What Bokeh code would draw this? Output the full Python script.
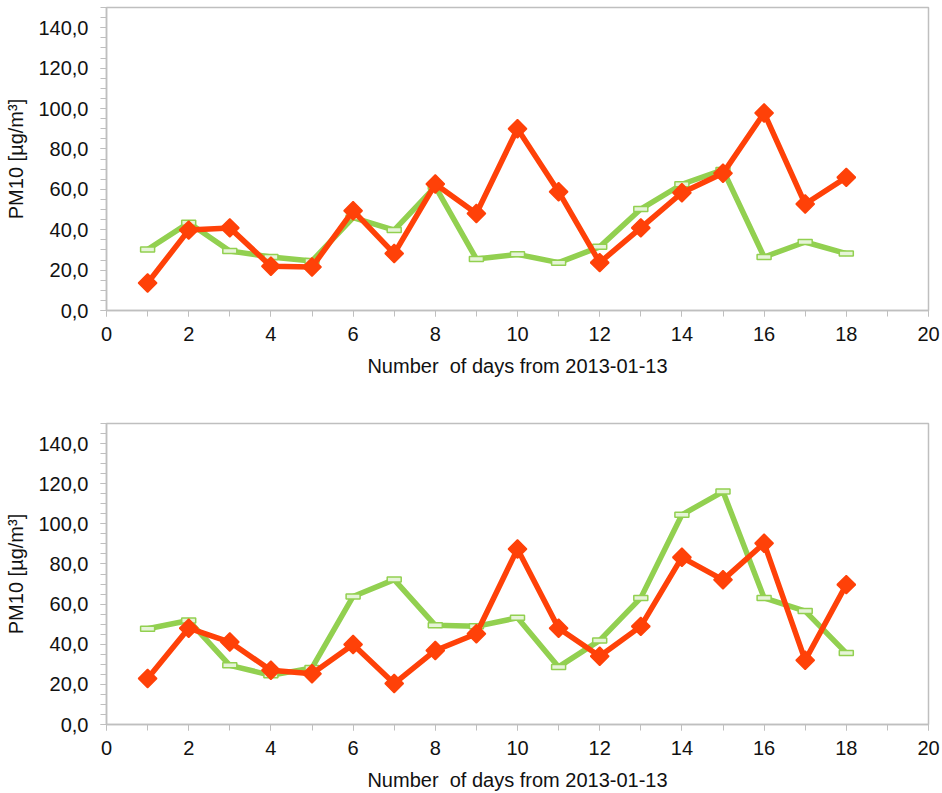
from bokeh.plotting import figure
from bokeh.layouts import column
from bokeh.models import FixedTicker, Range1d
from bokeh.embed import file_html
from bokeh.resources import INLINE

days = list(range(1, 19))
top_green = [30.2, 43.4, 29.5, 26.5, 24.5, 46.0, 39.8, 61.3, 25.5, 27.8, 23.7, 31.5, 50.2, 62.5, 69.6, 26.5, 33.9, 28.2]
top_red = [13.6, 39.8, 40.9, 21.9, 21.5, 49.4, 28.2, 62.6, 48.0, 90.0, 58.8, 23.7, 40.9, 58.3, 67.9, 97.8, 52.7, 65.9]
bottom_green = [47.7, 51.8, 29.5, 24.5, 28.2, 63.8, 72.2, 49.4, 48.9, 53.2, 28.7, 41.9, 63.1, 104.5, 116.1, 63.1, 56.5, 35.6]
bottom_red = [22.9, 48.0, 41.1, 27.0, 25.3, 39.9, 20.4, 36.9, 45.2, 87.5, 48.0, 34.0, 48.9, 83.3, 72.1, 90.3, 32.0, 69.7]

y_ticks = [0, 20, 40, 60, 80, 100, 120, 140]
y_tick_labels = ["0,0", "20,0", "40,0", "60,0", "80,0", "100,0", "120,0", "140,0"]
y_minor_ticks = list(range(0, 151, 5))
x_ticks = [0, 2, 4, 6, 8, 10, 12, 14, 16, 18, 20]
x_minor_ticks = list(range(0, 21))

x_title = "Number\u00a0 of days from 2013-01-13"
y_title = "PM10 [µg/m³]"

GREEN = "#92D050"
GREEN_FILL = "#E6F4D8"
RED = "#FF4108"
GRAY = "#BFBFBF"
FONT = "Liberation Sans"


def make_fig(green, red, border_top, border_bottom, height):
    p = figure(width=942, height=height, output_backend="svg", toolbar_location=None,
               x_range=Range1d(0, 20), y_range=Range1d(0, 150),
               min_border_left=106, min_border_right=14,
               min_border_top=border_top, min_border_bottom=border_bottom)
    p.xgrid.visible = False
    p.ygrid.visible = False
    p.outline_line_color = GRAY
    p.outline_line_width = 1.5
    p.background_fill_color = "white"
    p.border_fill_color = "white"

    p.xaxis.ticker = FixedTicker(ticks=x_ticks, minor_ticks=x_minor_ticks)
    p.yaxis.ticker = FixedTicker(ticks=y_ticks, minor_ticks=y_minor_ticks)
    p.yaxis.major_label_overrides = {t: l for t, l in zip(y_ticks, y_tick_labels)}

    for ax in (p.xaxis, p.yaxis):
        ax.axis_line_color = GRAY
        ax.axis_line_width = 1.5
        ax.major_tick_line_color = GRAY
        ax.minor_tick_line_color = GRAY
        ax.major_tick_in = 0
        ax.major_tick_out = 6
        ax.minor_tick_in = 0
        ax.minor_tick_out = 6
        ax.major_label_text_font = FONT
        ax.major_label_text_font_size = "20px"
        ax.major_label_text_color = "#111111"
        ax.axis_label_text_font = FONT
        ax.axis_label_text_font_size = "20px"
        ax.axis_label_text_font_style = "normal"
        ax.axis_label_text_color = "#111111"

    p.xaxis.axis_label = x_title
    p.yaxis.axis_label = y_title
    p.xaxis.major_label_standoff = 10
    p.xaxis.axis_label_standoff = 11
    p.yaxis.major_label_standoff = 12
    p.yaxis.axis_label_standoff = 8

    p.line(days, green, line_color=GREEN, line_width=5.5)
    p.rect(days, green, width=14, height=5, width_units="screen", height_units="screen",
           fill_color=GREEN_FILL, line_color=GREEN, line_width=1.5)
    p.line(days, red, line_color=RED, line_width=5.5)
    p.scatter(days, red, marker="square", angle=0.785398, size=13,
              fill_color=RED, line_color=RED, line_width=1.5)
    return p


p1 = make_fig(top_green, top_red, 7, 90, 400)
p2 = make_fig(bottom_green, bottom_red, 23, 67, 393)

layout = column(p1, p2, spacing=0)
open("out.html", "w").write(file_html(layout, INLINE))
